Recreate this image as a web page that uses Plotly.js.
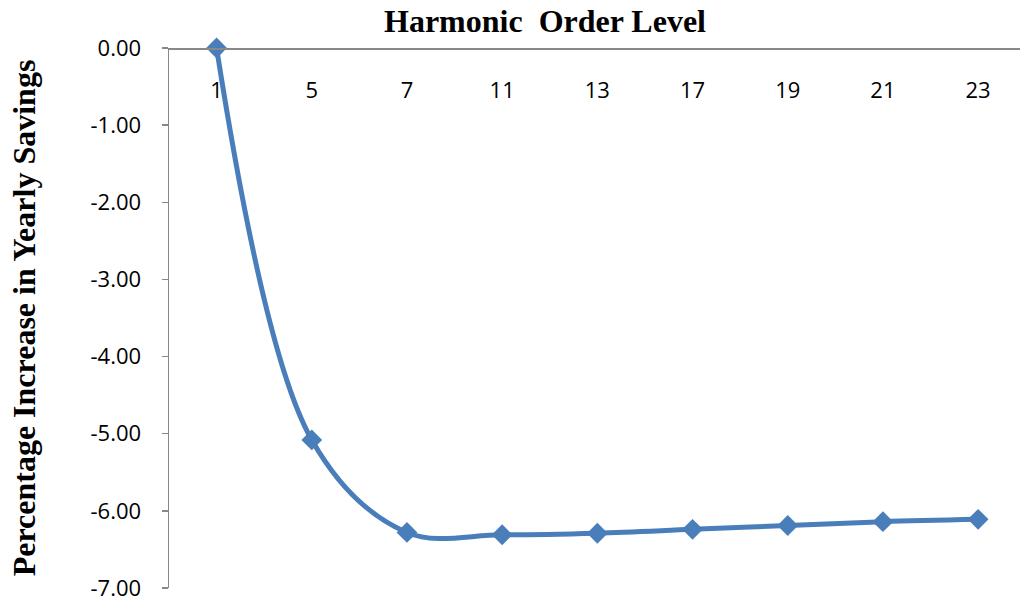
<!DOCTYPE html>
<html>
<head>
<meta charset="utf-8">
<script src="https://cdn.plot.ly/plotly-3.0.1.min.js"></script>
<style>
  html, body { margin: 0; padding: 0; background: #fff; }
  #chart { width: 1020px; height: 603px; }
</style>
</head>
<body>
<div id="chart"></div>
<script>
// Data
const harmonicOrders = ["1", "5", "7", "11", "13", "17", "19", "21", "23"];
const savingsIncrease = [0.00, -5.08, -6.28, -6.31, -6.29, -6.24, -6.19, -6.14, -6.11];
const yTickValues = [0, -1, -2, -3, -4, -5, -6, -7];
const yTickLabels = ["0.00", "-1.00", "-2.00", "-3.00", "-4.00", "-5.00", "-6.00", "-7.00"];

const chartTitle = "Harmonic\u00a0 Order Level";
const yAxisTitle = "Percentage Increase in Yearly Savings";

const blue = "#4a7ebb";
const axisGray = "#888888";
const tickFont = { family: "Open Sans, sans-serif", size: 22, color: "#000" };
const titleFont = { family: "Liberation Serif, Times New Roman, serif", size: 32, color: "#000", weight: "bold" };

const trace = {
  x: harmonicOrders,
  y: savingsIncrease,
  type: "scatter",
  mode: "lines+markers",
  line: { color: blue, width: 5, shape: "spline", smoothing: 1 },
  marker: { symbol: "diamond", size: 16, color: blue },
  cliponaxis: false,
  hoverinfo: "x+y"
};

const layout = {
  width: 1020,
  height: 603,
  margin: { l: 169, r: 0, t: 48, b: 15 },
  paper_bgcolor: "#fff",
  plot_bgcolor: "#fff",
  showlegend: false,
  title: {
    text: "<b>" + chartTitle + "</b>",
    font: titleFont,
    x: 545 / 1020,
    xref: "container",
    xanchor: "center",
    y: 1 - 21 / 603,
    yref: "container",
    yanchor: "middle"
  },
  xaxis: {
    type: "category",
    categoryorder: "array",
    categoryarray: harmonicOrders,
    range: [-0.5, 8.44],
    anchor: "free",
    position: 1,
    side: "bottom",
    showline: true,
    linecolor: axisGray,
    linewidth: 1.5,
    showgrid: false,
    zeroline: false,
    ticks: "",
    ticklabelstandoff: 22,
    tickfont: tickFont,
    automargin: false,
    fixedrange: true
  },
  yaxis: {
    range: [-7, 0],
    tickvals: yTickValues,
    ticktext: yTickLabels,
    showline: true,
    linecolor: axisGray,
    linewidth: 1.5,
    ticks: "outside",
    ticklen: 6,
    tickwidth: 1.5,
    tickcolor: axisGray,
    showgrid: false,
    zeroline: false,
    tickfont: tickFont,
    ticklabelstandoff: 16,
    automargin: false,
    title: {
      text: "<b>" + yAxisTitle + "</b>",
      font: titleFont,
      standoff: 45
    },
    fixedrange: true
  }
};

Plotly.newPlot("chart", [trace], layout, { displayModeBar: false, staticPlot: true });
</script>
</body>
</html>
